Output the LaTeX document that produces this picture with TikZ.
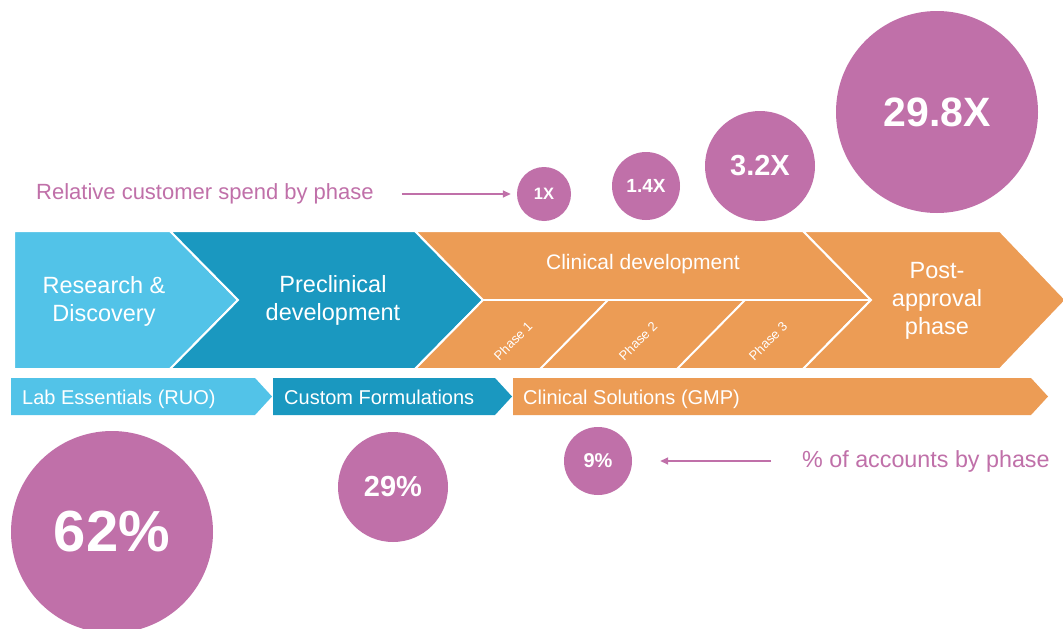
\documentclass[tikz,border=0pt]{standalone}
\usepackage{fontspec}
\setmainfont{Liberation Sans}
\usetikzlibrary{arrows.meta}
\definecolor{lblue}{HTML}{52C3E8}
\definecolor{dblue}{HTML}{1A98C0}
\definecolor{orng}{HTML}{EC9C55}
\definecolor{purp}{HTML}{C070A9}
\begin{document}
\begin{tikzpicture}[x=1pt,y=-1pt,
  seg/.style={draw=white, line width=2pt, line join=miter},
  bubble/.style={circle, fill=purp, text=white, inner sep=0pt, font=\bfseries},
  segtext/.style={text=white, align=center, inner sep=0pt, font=\fontsize{23.5}{28}\selectfont},
  phasetext/.style={text=white, inner sep=0pt, rotate=45, font=\fontsize{13}{15}\selectfont},
  bartext/.style={text=white, anchor=base west, inner sep=0pt, font=\fontsize{20}{24}\selectfont},
  note/.style={text=purp, inner sep=0pt, font=\fontsize{22}{26}\selectfont},
  pointer/.style={draw=purp, line width=1.6pt, -{Triangle[length=8pt,width=7pt]}}]
\useasboundingbox (0,0) rectangle (1063,629);
\fill[white] (0,0) rectangle (1063,629);

% main chevron band
\filldraw[seg, fill=lblue] (14,231) -- (170,231) -- (238,300) -- (170,369) -- (14,369) -- cycle;
\filldraw[seg, fill=dblue] (170,231) -- (415,231) -- (483,300) -- (415,369) -- (170,369) -- (238,300) -- cycle;
\filldraw[seg, fill=orng] (415,231) -- (803,231) -- (871,300) -- (803,369) -- (415,369) -- (483,300) -- cycle;
\filldraw[seg, fill=orng] (803,231) -- (1000,231) -- (1066,300) -- (1000,369) -- (803,369) -- (871,300) -- cycle;
\draw[seg] (483,300) -- (871,300);
\draw[seg] (608,300) -- (540,369);
\draw[seg] (745,300) -- (677,369);

\node[segtext] (rd) at (104,301) {Research \&\\Discovery};
\node[segtext] (pre) at (333,300) {Preclinical\\development};
\node[segtext, font=\fontsize{21}{25}\selectfont] (clin) at (643,264) {Clinical development};
\node[segtext] (post) at (937,301) {Post-\\approval\\phase};
\node[phasetext] (p1) at (513,341) {Phase 1};
\node[phasetext] (p2) at (638,341) {Phase 2};
\node[phasetext] (p3) at (768,341) {Phase 3};

% lower bar
\fill[lblue] (11,378) -- (255,378) -- (272,396.5) -- (255,415) -- (11,415) -- cycle;
\fill[dblue] (273,378) -- (495,378) -- (512,396.5) -- (495,415) -- (273,415) -- cycle;
\fill[orng] (513,378) -- (1031,378) -- (1048,396.5) -- (1031,415) -- (513,415) -- cycle;
\node[bartext] (lab) at (22,404) {Lab Essentials (RUO)};
\node[bartext] (cust) at (284,404) {Custom Formulations};
\node[bartext] (gmp) at (523,404) {Clinical Solutions (GMP)};

% spend bubbles
\node[bubble, minimum size=54pt, font=\bfseries\fontsize{16.5}{18}\selectfont] (c1) at (544,194) {1X};
\node[bubble, minimum size=68pt, font=\bfseries\fontsize{19}{21}\selectfont] (c14) at (646,186) {1.4X};
\node[bubble, minimum size=110pt, font=\bfseries\fontsize{29}{32}\selectfont] (c32) at (760,166) {3.2X};
\node[bubble, minimum size=202pt, font=\bfseries\fontsize{41}{45}\selectfont] (c298) at (937,112) {29.8X};

% account bubbles
\node[bubble, minimum size=202pt, font=\bfseries\fontsize{58}{62}\selectfont] (c62) at (112,532) {62\%};
\node[bubble, minimum size=110pt, font=\bfseries\fontsize{29}{32}\selectfont] (c29) at (393,487) {29\%};
\node[bubble, minimum size=68pt, font=\bfseries\fontsize{20}{22}\selectfont] (c9) at (598,461) {9\%};

% notes and pointers
\node[note, anchor=west] (rel) at (36,194) {Relative customer spend by phase};
\node[note, anchor=west, font=\fontsize{23.3}{27}\selectfont] (acc) at (802,461) {\% of accounts by phase};
\draw[pointer, shorten <=28pt, shorten >=6pt] (rel.east) -- (c1.west);
\draw[pointer, shorten <=31pt, shorten >=28pt] (acc.west) -- (c9.east);
\end{tikzpicture}
\end{document}
